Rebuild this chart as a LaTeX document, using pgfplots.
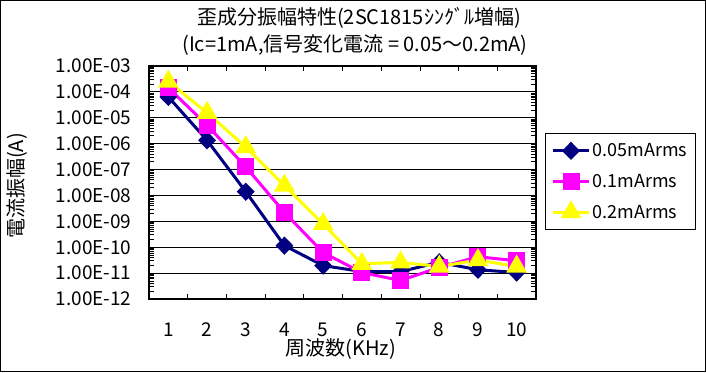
\documentclass[border=0pt]{standalone}
\usepackage{pgfplots}
\pgfplotsset{compat=1.18}
\usepackage{fontspec}
\setmainfont{Noto Sans CJK JP}
\definecolor{cnavy}{RGB}{0,0,128}
\definecolor{cmag}{RGB}{255,0,255}
\definecolor{cyel}{RGB}{255,255,0}
\newcommand{\fs}{\fontsize{19pt}{22pt}\selectfont}
\newcommand{\fl}{\fontsize{18pt}{21pt}\selectfont}
\begin{document}
\begin{tikzpicture}[x=1pt,y=1pt]
\useasboundingbox (0,0) rectangle (706,372);
\draw[line width=0.8pt] (0.4,0.4) rectangle (705.6,371.6);
\node[font=\fontsize{20pt}{22pt}\selectfont] at (359,354) {歪成分振幅特性(2SC1815ｼﾝｸﾞﾙ増幅)};
\node[font=\fontsize{20pt}{22pt}\selectfont] at (355,327) {(Ic=1mA,信号変化電流 = 0.05～0.2mA)};
\node[font=\fontsize{20pt}{22pt}\selectfont, rotate=90] at (17,186) {電流振幅(A)};
\node[font=\fontsize{20pt}{22pt}\selectfont] at (341,23) {周波数(KHz)};
\begin{axis}[
  at={(149pt,73pt)}, anchor=south west, scale only axis,
  width=387pt, height=233pt,
  ymode=log, ymin=1e-12, ymax=1e-3,
  ytick={1e-12,1e-11,1e-10,1e-9,1e-8,1e-7,1e-6,1e-5,1e-4,1e-3},
  yticklabels={1.00E-12,1.00E-11,1.00E-10,1.00E-09,1.00E-08,1.00E-07,1.00E-06,1.00E-05,1.00E-04,1.00E-03},
  xmin=0.5, xmax=10.5,
  xtick={1,2,3,4,5,6,7,8,9,10},
  xticklabels={1,2,3,4,5,6,7,8,9,10},
  minor xtick={1.5,2.5,3.5,4.5,5.5,6.5,7.5,8.5,9.5},
  major x tick style={draw=none},
  ymajorgrids, grid style={black, line width=0.8pt},
  axis line style={line width=1.6pt},
  tick style={black, line width=0.8pt},
  tick align=inside, major tick length=5pt, minor tick length=5pt,
  tick label style={font=\fs},
  yticklabel style={xshift=-14pt},
  xticklabel style={yshift=-20pt},
  /pgf/number format/assume math mode=true,
  clip=false,
  legend cell align=left,
  legend style={at={(axis description cs:1.0235,0.712)}, anchor=north west,
    draw=black, line width=0.8pt, inner xsep=6pt, inner ysep=8pt,
    row sep=12pt, font=\fl},
  legend image code/.code={\draw[mark repeat=2,mark phase=2] plot coordinates {(0pt,0pt) (18pt,0pt) (36pt,0pt)};},
]
\addplot[cnavy, line width=3pt, mark=diamond*, mark size=7pt, mark options={xscale=1.3, solid}] coordinates {
(1,6.4e-5) (2,1.35e-6) (3,1.4e-8) (4,1.15e-10) (5,1.95e-11) (6,1.15e-11) (7,1.15e-11) (8,2.6e-11) (9,1.35e-11) (10,1.05e-11)};
\addlegendentry{0.05mArms}
\addplot[cmag, line width=3pt, mark=square*, mark size=7pt, mark options={solid}] coordinates {
(1,1.43e-4) (2,5.2e-6) (3,1.27e-7) (4,2.2e-9) (5,6.2e-11) (6,1.05e-11) (7,5.2e-12) (8,1.65e-11) (9,4.3e-11) (10,3.0e-11)};
\addlegendentry{0.1mArms}
\addplot[cyel, line width=3pt, mark=triangle*, mark size=9pt, mark options={solid}] coordinates {
(1,2.5e-4) (2,1.56e-5) (3,7.4e-7) (4,2.4e-8) (5,7.9e-10) (6,2.3e-11) (7,2.6e-11) (8,1.8e-11) (9,3.2e-11) (10,1.8e-11)};
\addlegendentry{0.2mArms}
\end{axis}
\end{tikzpicture}
\end{document}
